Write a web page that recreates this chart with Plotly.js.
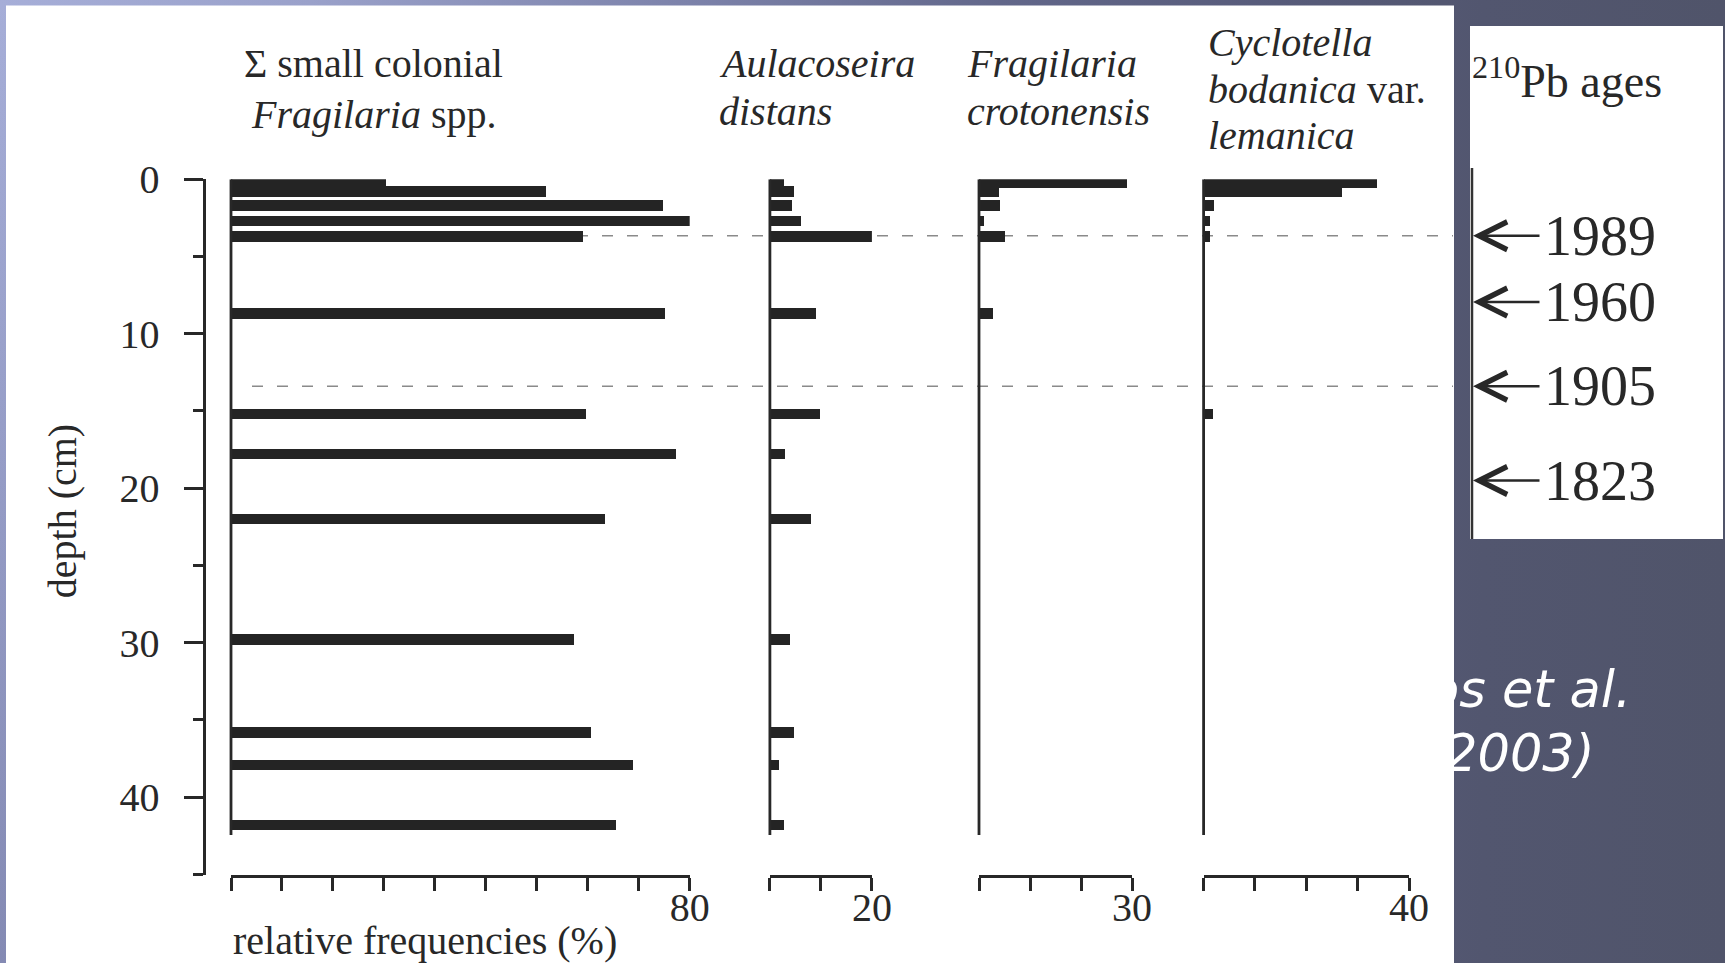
<!DOCTYPE html>
<html>
<head>
<meta charset="utf-8">
<script src="https://cdn.plot.ly/plotly-3.0.1.min.js"></script>
<style>
  html, body { margin: 0; padding: 0; }
  #slide {
    width: 1725px; height: 963px;
    background:
      linear-gradient(to bottom, rgba(30,30,70,0) 0%, rgba(30,30,70,0.25) 100%) left top / 30px 100% no-repeat,
      linear-gradient(to right, #a6aed8 0%, #9aa1ca 18%, #7c82aa 40%, #62678a 58%, #575b7a 74%, #52566f 86%, #50546a 100%);
  }
</style>
</head>
<body>
<div id="slide"></div>
<script>
// Sample depths in the core (cm) and relative frequencies (%) per taxon
const depths = [0.2, 0.8, 1.7, 2.7, 3.7, 8.7, 15.2, 17.8, 22.0, 29.8, 35.8, 37.9, 41.8];
const smallColonialFragilaria = [27.0, 54.9, 75.4, 80.0, 61.4, 75.7, 62.0, 77.6, 65.2, 59.8, 62.7, 70.1, 67.2];
const aulacoseiraDistans      = [2.7, 4.8, 4.3, 6.0, 20.7, 9.0, 9.8, 3.0, 8.1, 3.9, 4.7, 1.7, 2.7];
const fragilariaCrotonensis   = [29.0, 3.9, 4.2, 1.0, 5.1, 2.8, 0, 0, 0, 0, 0, 0, 0];
const cyclotellaBodanica      = [33.8, 27.0, 2.0, 1.3, 1.3, 0, 1.8, 0, 0, 0, 0, 0, 0];

// 210Pb dates and the depths they refer to
const ageYears  = ['1989', '1960', '1905', '1823'];
const ageDepths = [3.66, 7.95, 13.4, 19.5];
const horizonYears = ['1989', '1905'];

// Axis ticks: labelled ticks and plain ticks per axis
const depthTicks      = [0, 10, 20, 30, 40];
const depthMinorTicks = [5, 15, 25, 35, 45];
const depthRange      = [45, 0];
const panel1Labelled = [80];
const panel1Plain    = [0, 8.89, 17.78, 26.67, 35.56, 44.44, 53.33, 62.22, 71.11];
const panel2Labelled = [20];
const panel2Plain    = [0, 10];
const panel3Labelled = [30];
const panel3Plain    = [0, 10, 20];
const panel4Labelled = [40];
const panel4Plain    = [0, 10, 20, 30];

const citationLines = ['os et al.', '2003)'];

// ---- page geometry helpers (pixel -> paper fraction) ----
const W = 1725, H = 963;
const fx = p => p / W;
const fy = p => 1 - p / H;

const INK = '#282828';
const BAR = '#242424';
const SERIF = 'Liberation Serif, Times New Roman, serif';
const BAR_WIDTH = 0.68;

const panels = [
  { axis: 'x',  values: smallColonialFragilaria, range: [0, 80], dom: [231, 689.7],   labelled: panel1Labelled, plain: panel1Plain },
  { axis: 'x2', values: aulacoseiraDistans,      range: [0, 20], dom: [769.9, 871.9], labelled: panel2Labelled, plain: panel2Plain },
  { axis: 'x3', values: fragilariaCrotonensis,   range: [0, 30], dom: [979, 1132],    labelled: panel3Labelled, plain: panel3Plain },
  { axis: 'x4', values: cyclotellaBodanica,      range: [0, 40], dom: [1203.6, 1409], labelled: panel4Labelled, plain: panel4Plain }
];

const deepest = Math.max(...depths) + BAR_WIDTH / 2 + 0.3;
const traces = panels.map(p => ({
  type: 'bar',
  orientation: 'h',
  x: p.values,
  y: depths,
  xaxis: p.axis,
  yaxis: 'y',
  width: BAR_WIDTH,
  marker: { color: BAR, line: { width: 0 } },
  cliponaxis: false,
  hoverinfo: 'skip',
  showlegend: false
}));

// Citation on the slide, partly tucked behind the figure panel
traces.push({
  type: 'scatter',
  mode: 'text',
  x: [1428, 1445],
  y: [694, 758],
  text: citationLines,
  textposition: 'middle right',
  textfont: { family: 'DejaVu Sans, sans-serif', size: 51, color: '#ffffff', style: 'italic' },
  xaxis: 'x5',
  yaxis: 'y5',
  cliponaxis: true,
  hoverinfo: 'skip',
  showlegend: false
});

const layout = {
  width: W,
  height: H,
  margin: { l: 0, r: 0, t: 0, b: 0, pad: 0 },
  paper_bgcolor: 'rgba(0,0,0,0)',
  plot_bgcolor: 'rgba(0,0,0,0)',
  showlegend: false,
  bargap: 0,
  yaxis: {
    domain: [fy(874.5), fy(179.2)],
    range: depthRange,
    anchor: 'free',
    position: fx(203.5),
    showline: true, linewidth: 3, linecolor: INK,
    ticks: 'outside', ticklen: 19, tickwidth: 3, tickcolor: INK,
    tickmode: 'array', tickvals: depthTicks, ticktext: depthTicks.map(String),
    tickfont: { family: SERIF, size: 40, color: INK },
    ticklabelstandoff: 16,
    minor: { tickmode: 'array', tickvals: depthMinorTicks, ticks: 'outside', ticklen: 10, tickwidth: 3, tickcolor: INK, showgrid: false },
    showgrid: false, zeroline: false, fixedrange: true
  },
  xaxis5: { domain: [fx(1454), 1], range: [1454, 1725], visible: false, anchor: 'y5', fixedrange: true },
  yaxis5: { domain: [0, fy(560)], range: [963, 560], visible: false, anchor: 'x5', fixedrange: true },
  shapes: [],
  annotations: []
};

panels.forEach((p, i) => {
  const key = i === 0 ? 'xaxis' : 'xaxis' + (i + 1);
  layout[key] = {
    domain: [fx(p.dom[0]), fx(p.dom[1])],
    range: p.range,
    anchor: 'y',
    showline: true, linewidth: 3, linecolor: INK,
    ticks: 'outside', ticklen: 13, tickwidth: 3, tickcolor: INK,
    tickmode: 'array', tickvals: p.labelled, ticktext: p.labelled.map(String),
    tickfont: { family: SERIF, size: 40, color: INK },
    ticklabelstandoff: -18,
    minor: { tickmode: 'array', tickvals: p.plain, ticks: 'outside', ticklen: 13, tickwidth: 3, tickcolor: INK, showgrid: false },
    showgrid: false, zeroline: false, fixedrange: true
  };
});

// White figure panel and the dating inset
layout.shapes.push(
  { type: 'rect', xref: 'paper', yref: 'paper', x0: fx(6), x1: fx(1454), y0: fy(963), y1: fy(5.5),
    fillcolor: '#ffffff', line: { width: 0 }, layer: 'below' },
  { type: 'rect', xref: 'paper', yref: 'paper', x0: fx(1470), x1: fx(1723), y0: fy(539), y1: fy(26),
    fillcolor: '#ffffff', line: { width: 0 }, layer: 'below' },
  { type: 'line', xref: 'paper', yref: 'paper', x0: fx(1472), x1: fx(1472), y0: fy(539), y1: fy(168),
    line: { color: '#333333', width: 2.5 }, layer: 'below' }
);

// Zero line of each profile (left edge of its x domain), surface to deepest sample
panels.forEach(p => {
  layout.shapes.push({
    type: 'line', xref: 'paper', yref: 'y',
    x0: fx(p.dom[0]), x1: fx(p.dom[0]), y0: 0, y1: deepest,
    line: { color: INK, width: 2.8 }, layer: 'above'
  });
});

// Dashed horizons at dated levels
horizonYears.forEach(yr => {
  const d = ageDepths[ageYears.indexOf(yr)];
  layout.shapes.push({
    type: 'line', xref: 'paper', yref: 'y', x0: fx(252), x1: fx(1453), y0: d, y1: d,
    line: { color: '#8a8a8a', width: 1.6, dash: '11px,14px' }, layer: 'below'
  });
});

function label(text, xPx, yPx, opts) {
  layout.annotations.push(Object.assign({
    text: text, xref: 'paper', yref: 'paper', x: fx(xPx), y: fy(yPx),
    xanchor: 'left', yanchor: 'middle', showarrow: false,
    font: { family: SERIF, size: 40, color: INK }
  }, opts || {}));
}

// Taxon headers
label('\u03a3 small colonial', 373, 64, { xanchor: 'center' });
label('<i>Fragilaria</i> spp.', 373, 114, { xanchor: 'center' });
label('<i>Aulacoseira</i>', 717, 64);
label('<i>distans</i>', 717, 111);
label('<i>Fragilaria</i>', 965, 64);
label('<i>crotonensis</i>', 965, 111);
label('<i>Cyclotella</i>', 1206, 43);
label('<i>bodanica</i> var.', 1206, 89);
label('<i>lemanica</i>', 1206, 136);

// Axis titles
label('relative frequencies (%)', 231, 940.5);
label('depth (cm)', 62.7, 511.5, { xanchor: 'center', textangle: -90 });

// Dating column: each year points with an arrow at its depth on the core axis
label('<sup>210</sup>Pb ages', 1470, 78, { font: { family: SERIF, size: 46, color: INK } });
ageYears.forEach((yr, i) => {
  layout.annotations.push({
    text: yr,
    xref: 'paper', yref: 'y', x: fx(1473), y: ageDepths[i],
    showarrow: true, arrowhead: 5, arrowsize: 2.3, arrowwidth: 2.4, arrowcolor: INK,
    axref: 'pixel', ayref: 'pixel', ax: 127, ay: 0, standoff: 0, startstandoff: 4,
    xanchor: 'center', yanchor: 'middle', borderpad: 0,
    font: { family: SERIF, size: 56, color: INK }
  });
});

Plotly.newPlot('slide', traces, layout, { staticPlot: true, displayModeBar: false });
</script>
</body>
</html>
